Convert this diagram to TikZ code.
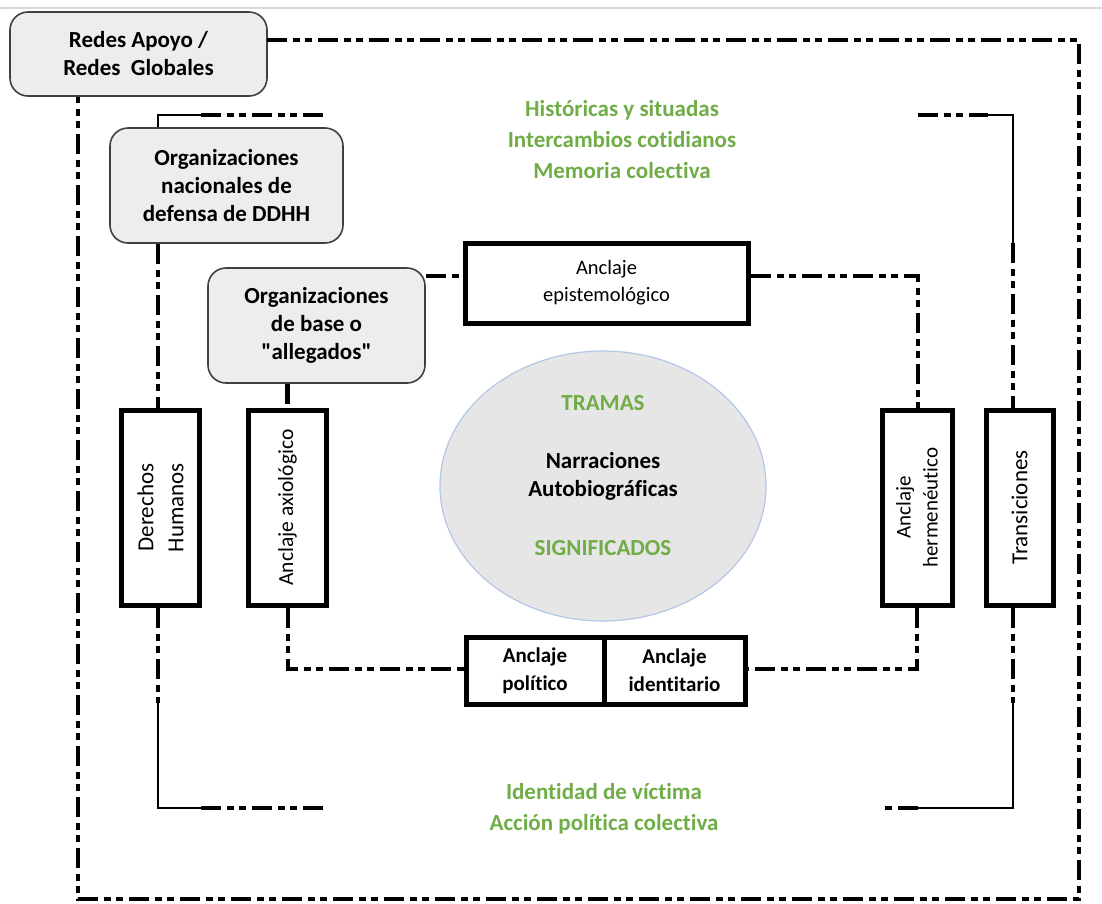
\documentclass[tikz,border=0pt]{standalone}
\usepackage{fontspec}
\setmainfont{Carlito}[Ligatures={TeXOff,NoCommon}]
\usetikzlibrary{shapes.geometric,calc}
\definecolor{grn}{HTML}{70AD47}
\definecolor{boxgray}{HTML}{EDEDED}
\definecolor{ellfill}{HTML}{E6E6E6}
\definecolor{ellborder}{HTML}{B4C7E7}
\definecolor{sepgray}{HTML}{DADADA}
\tikzset{
  ddot/.style={line width=4.5pt, dash pattern=on 20pt off 6pt on 7pt off 5pt on 7pt off 6pt},
  thinl/.style={line width=1.3pt},
  gbox/.style={draw=black!75, line width=1.6pt, fill=boxgray, rounded corners=18pt, align=center,
    font=\fontsize{23}{28}\selectfont\bfseries, inner sep=0pt},
  wbox/.style={draw, line width=5pt, fill=white, align=center, inner sep=0pt},
  grtext/.style={text=grn, font=\fontsize{23}{31}\selectfont\bfseries, align=center, inner sep=0pt},
}
\begin{document}
\begin{tikzpicture}[x=1pt,y=-1pt]
\useasboundingbox (0,0) rectangle (1102,903);
\fill[white] (0,0) rectangle (1102,903);
\draw[sepgray, line width=1.5pt] (0,8) -- (1102,8);

% nodes
\node[gbox, minimum width=257pt, minimum height=84pt] (redes) at (138.5,54) {Redes Apoyo /\\Redes\ \ Globales};
\node[gbox, minimum width=233pt, minimum height=115pt] (orgnac) at (226.5,185.5) {Organizaciones\\nacionales de\\defensa de DDHH};
\node[gbox, minimum width=217pt, minimum height=115pt] (orgbase) at (316.5,325.5) {Organizaciones\\de base o\\"allegados"};

\node[wbox, minimum width=283pt, minimum height=80pt, font=\fontsize{20.5}{27}\selectfont] (epist) at (606.5,283) {Anclaje\\epistemológico};

\node[wbox, minimum width=78pt, minimum height=195pt] (ddhh) at (160.5,507.5) {};
\node[rotate=90, align=center, font=\fontsize{23}{30}\selectfont] at (ddhh.center) {Derechos\\Humanos};
\node[wbox, minimum width=78pt, minimum height=195pt] (axio) at (287.5,507.5) {};
\node[rotate=90, align=center, font=\fontsize{21.5}{27}\selectfont] at (axio.center) {Anclaje axiológico};
\node[wbox, minimum width=70pt, minimum height=195pt] (herm) at (917,507.5) {};
\node[rotate=90, align=center, font=\fontsize{21}{27}\selectfont] at (herm.center) {Anclaje\\hermenéutico};
\node[wbox, minimum width=67pt, minimum height=195pt] (trans) at (1019.5,507.5) {};
\node[rotate=90, align=center, font=\fontsize{23}{28}\selectfont] at (trans.center) {Transiciones};

\node[wbox, minimum width=138pt, minimum height=67pt, font=\fontsize{21}{28}\selectfont\bfseries] (polit) at (535,670.5) {Anclaje\\político};
\node[wbox, minimum width=141pt, minimum height=67pt, font=\fontsize{21}{28}\selectfont\bfseries] (ident) at (674.5,670.5) {Anclaje\\identitario};

\node[ellipse, draw=ellborder, line width=1.2pt, fill=ellfill, minimum width=326pt, minimum height=270pt] (ell) at (603,486) {};
\node[grtext] (tramas) at (603,403) {TRAMAS};
\node[align=center, font=\fontsize{23}{28}\selectfont\bfseries, inner sep=0pt] (narr) at (603,476) {Narraciones\\Autobiográficas};
\node[grtext] (signif) at (603,548) {SIGNIFICADOS};

\node[grtext] (topg) at (622,140) {Históricas y situadas\\Intercambios cotidianos\\Memoria colectiva};
\node[grtext] (botg) at (604,808.5) {Identidad de víctima\\Acción política colectiva};

% coordinates for connectors
\coordinate (fr1) at (267,40);
\coordinate (fr2) at (1079,40);
\coordinate (fr3) at (1079,899);
\coordinate (fr4) at (78,899);
\coordinate (fr5) at (78,96.5);
\coordinate (tl1) at (158,115);
\coordinate (tl2) at (201,115);
\coordinate (tl3) at (323,115);
\coordinate (tr1) at (918,115);
\coordinate (tr2) at (988,115);
\coordinate (tr3) at (1013,115);
\coordinate (tr4) at (1013,243);
\coordinate (tr5) at (1013,410);
\coordinate (tr6) at (1013,605);
\coordinate (tr7) at (1013,703);
\coordinate (tr8) at (1013,808);
\coordinate (tr9) at (918,808);
\coordinate (tr10) at (882,808);
\coordinate (ep1) at (918,276);
\coordinate (ax1) at (288,669);
\coordinate (he1) at (917,669);
\coordinate (bl1) at (158,605);
\coordinate (bl2) at (158,703);
\coordinate (bl3) at (158,808);
\coordinate (bl4) at (201,808);
\coordinate (bl5) at (323,808);

% outer frame
\draw[ddot] (fr1) -- (fr2) -- (fr3) -- (fr4) -- (fr5);

% top-left bracket
\draw[thinl] (orgnac.north -| tl1) -- (tl1) -- (tl2);
\draw[ddot] (tl2) -- (tl3);
\draw[ddot] (orgnac.south -| tl1) -- (ddhh.north -| tl1);

% top-right bracket
\draw[ddot] (tr1) -- (tr2);
\draw[thinl] (tr2) -- (tr3) -- (tr4);
\draw[ddot] (tr4) -- (trans.north -| tr5);

% org base links
\draw[ddot] (orgbase.east |- 0,276) -- (epist.west |- 0,276);
\draw[ddot] (orgbase.south -| axio.north) -- (axio.north);

% epist to hermeneutico
\draw[ddot] (epist.east |- ep1) -- (ep1) -- (herm.north -| ep1);

% bottom inner links
\draw[ddot] (axio.south -| ax1) -- (ax1) -- (polit.west |- ax1);
\draw[ddot] (herm.south -| he1) -- (he1) -- (ident.east |- he1);

% bottom-left bracket
\draw[ddot] (ddhh.south -| bl1) -- (bl2);
\draw[thinl] (bl2) -- (bl3) -- (bl4);
\draw[ddot] (bl4) -- (bl5);

% bottom-right bracket
\draw[ddot] (trans.south -| tr6) -- (tr7);
\draw[thinl] (tr7) -- (tr8) -- (tr9);
\draw[ddot] (tr9) -- (tr10);
\end{tikzpicture}
\end{document}
